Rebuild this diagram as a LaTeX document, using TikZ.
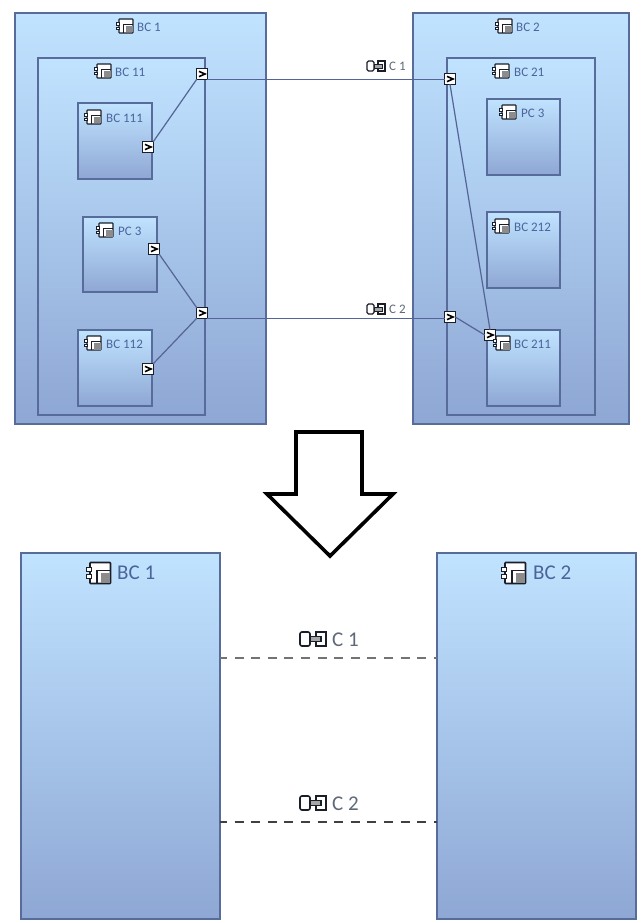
\documentclass[tikz,border=0pt]{standalone}
\usepackage{fontspec}
\setmainfont{Carlito}
\usetikzlibrary{calc}
\definecolor{topc}{RGB}{192,227,255}
\definecolor{botc}{RGB}{142,167,212}
\definecolor{edgec}{RGB}{88,108,155}
\definecolor{wirec}{RGB}{85,100,150}
\definecolor{labc}{RGB}{75,100,155}
\definecolor{clabc}{RGB}{95,105,120}
\definecolor{inkc}{RGB}{25,30,40}
\tikzset{
  x=1pt,y=-1pt,
  compbox/.style={draw=edgec,line width=1.2pt,top color=topc,bottom color=botc,anchor=north west,inner sep=0pt,outer sep=0pt},
  wire/.style={draw=wirec,line width=1.2pt},
  dashwire/.style={line width=1.6pt,dash pattern=on 9pt off 7.6pt,dash phase=2pt},
  portbox/.style={draw=inkc,line width=1pt,fill=white,minimum size=10.5pt,inner sep=0pt,outer sep=0pt,
    path picture={\draw[black,line width=1.6pt] ($(path picture bounding box.center)+(-3,-2.6)$) -- ($(path picture bounding box.center)+(3,0)$) -- ($(path picture bounding box.center)+(-3,2.6)$);}},
  blocklabel/.style={text=labc,anchor=west,inner sep=0pt},
  connlabel/.style={text=clabc,anchor=west,inner sep=0pt},
  smalltext/.style={font=\fontsize{13}{14}\selectfont},
  bigtext/.style={font=\fontsize{21}{23}\selectfont},
  bigarrow/.style={draw=black,line width=3.6pt,fill=white,miter limit=10},
  pics/compicon/.style={code={
    \draw[inkc,line width=1.1pt,fill=white,rounded corners=0.6pt] (-6,-7) rectangle (8,7);
    \fill[black!45] (1,0) rectangle (7.5,6.5);
    \draw[inkc,line width=1.1pt] (-1.5,7) -- (-1.5,-1.5) -- (8,-1.5);
    \draw[inkc,line width=0.8pt,fill=white] (-9,-3.8) rectangle (-5.5,-1);
    \draw[inkc,line width=0.8pt,fill=white] (-9,1) rectangle (-5.5,3.8);
  }},
  pics/bigcompicon/.style={code={
    \draw[inkc,line width=1.6pt,fill=white,rounded corners=0.8pt] (-10,-10.5) rectangle (10.5,10.5);
    \fill[black!45] (0.5,0) rectangle (10,10);
    \draw[inkc,line width=1.6pt] (-3,10.5) -- (-3,-2.5) -- (10.5,-2.5);
    \draw[inkc,line width=1pt,fill=white] (-14,-5.5) rectangle (-9,-1.5);
    \draw[inkc,line width=1pt,fill=white] (-14,1.5) rectangle (-9,5.5);
  }},
  pics/connicon/.style={code={
    \draw[inkc,line width=1.1pt,fill=white,rounded corners=1.5pt] (-9,-5) rectangle (-2,5);
    \draw[inkc,line width=1.1pt,fill=white] (2,-5) rectangle (9,5);
    \draw[inkc,line width=0.8pt,fill=black!35] (-2,-2) rectangle (6,2);
  }},
  pics/bigconnicon/.style={code={
    \draw[inkc,line width=1.6pt,fill=white,rounded corners=2pt] (-13,-7) rectangle (-3,7);
    \draw[inkc,line width=1.6pt,fill=white] (3,-7) rectangle (13,7);
    \draw[inkc,line width=1.1pt,fill=black!35] (-3,-2.8) rectangle (8,2.8);
  }},
}
\newcommand{\blockbox}[5]{\node[compbox,minimum width=#4-#2,minimum height=#5-#3] (#1) at (#2,#3) {};}
\begin{document}
\begin{tikzpicture}
\useasboundingbox[fill=white] (0,0) rectangle (643,923);
% top outer blocks
\blockbox{bcone}{15}{13}{266}{424}
\blockbox{bceleven}{38}{58}{205}{415}
\blockbox{bconeoneone}{78}{103}{152}{179}
\blockbox{pcleft}{83}{217}{157}{292}
\blockbox{bconeonetwo}{78}{330}{152}{406}
\blockbox{bctwo}{413}{13}{629}{424}
\blockbox{bctwoone}{447}{58}{595}{415}
\blockbox{pcright}{487}{99}{560}{175}
\blockbox{bctwoonetwo}{487}{212}{560}{288}
\blockbox{bctwooneone}{487}{330}{560}{406}
% ports
\node[portbox] (p1) at (202,74) {};
\node[portbox] (p2) at (148,147) {};
\node[portbox] (p3) at (154,249) {};
\node[portbox] (p4) at (148,369) {};
\node[portbox] (p5) at (202,313) {};
\node[portbox] (p6) at (450,79) {};
\node[portbox] (p7) at (450,317) {};
\node[portbox] (p8) at (490,335) {};
% wires
\draw[wire] (p2.north east) -- (p1.south west);
\draw[wire] (p1.south east) -- (p1.south east -| p6.west);
\draw[wire] (p3.south east) -- (p5.north west);
\draw[wire] (p4.north east) -- (p5.south west);
\draw[wire] (p5.south east) -- (p5.south east -| p7.west);
\draw[wire] (p6.south) -- (p8.north);
\draw[wire] (p7.east) -- (p8.west);
% labels
\pic at (125,26) {compicon};
\node[blocklabel,smalltext] (l1) at (137,27) {BC 1};
\pic at (103,71) {compicon};
\node[blocklabel,smalltext] (l2) at (115,72) {BC 11};
\pic at (93,117) {compicon};
\node[blocklabel,smalltext] (l3) at (106,118) {BC 111};
\pic at (105,230) {compicon};
\node[blocklabel,smalltext] (l4) at (118,231) {PC 3};
\pic at (93,343) {compicon};
\node[blocklabel,smalltext] (l5) at (106,344) {BC 112};
\pic at (504,26) {compicon};
\node[blocklabel,smalltext] (l6) at (516,27) {BC 2};
\pic at (501,71) {compicon};
\node[blocklabel,smalltext] (l7) at (514,72) {BC 21};
\pic at (508,112) {compicon};
\node[blocklabel,smalltext] (l8) at (521,113) {PC 3};
\pic at (501,226) {compicon};
\node[blocklabel,smalltext] (l9) at (514,227) {BC 212};
\pic at (502,343) {compicon};
\node[blocklabel,smalltext] (l10) at (514,344) {BC 211};
\pic at (376,66) {connicon};
\node[connlabel,smalltext] (c1top) at (389,66) {C 1};
\pic at (376,309) {connicon};
\node[connlabel,smalltext] (c2top) at (389,309) {C 2};
% big arrow
\draw[bigarrow] (296,432) -- (362,432) -- (362,494) -- (393,494) -- (330,556) -- (267,494) -- (296,494) -- cycle;
% bottom
\blockbox{bconeb}{21}{553}{220}{919}
\blockbox{bctwob}{437}{553}{636}{919}
\coordinate (d1l) at (bconeb.east |- 0,658);
\coordinate (d1r) at (bctwob.west |- 0,658);
\coordinate (d2l) at (bconeb.east |- 0,822);
\coordinate (d2r) at (bctwob.west |- 0,822);
\draw[dashwire,draw=black!55] (d1l) -- (d1r);
\draw[dashwire,draw=black!75] (d2l) -- (d2r);
\pic at (100,573) {bigcompicon};
\node[blocklabel,bigtext] (l11) at (117,573) {BC 1};
\pic at (515,573) {bigcompicon};
\node[blocklabel,bigtext] (l12) at (533,573) {BC 2};
\pic at (313,639) {bigconnicon};
\node[connlabel,bigtext] (c1b) at (332,640) {C 1};
\pic at (313,803) {bigconnicon};
\node[connlabel,bigtext] (c2b) at (332,804) {C 2};
\end{tikzpicture}
\end{document}
